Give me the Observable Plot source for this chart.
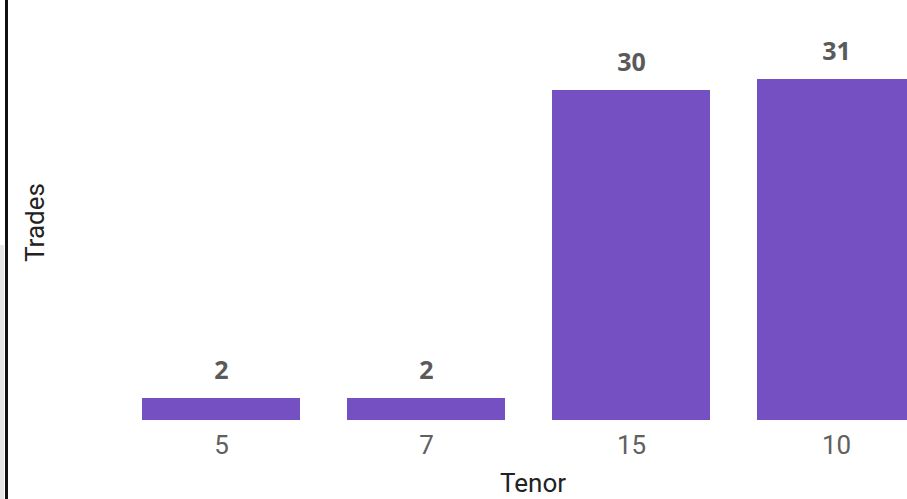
<!DOCTYPE html>
<html>
<head>
<meta charset="utf-8">
<script src="https://cdn.jsdelivr.net/npm/d3@7"></script>
<script src="https://cdn.jsdelivr.net/npm/@observablehq/plot@0.6"></script>
<style>
  html, body { margin: 0; padding: 0; background: #fff; overflow: hidden; }
  #wrap { position: relative; width: 907px; height: 499px; }
  #strip { position: absolute; left: 0; top: 245px; width: 4px; height: 254px; background: #e6e6e6; }
  #vline { position: absolute; left: 5px; top: 0; width: 3px; height: 499px; background: #111; }
  #chart { position: absolute; left: 0; top: 0; }
  #chart svg { overflow: hidden; }
</style>
</head>
<body>
<div id="wrap">
  <div id="strip"></div>
  <div id="vline"></div>
  <div id="chart"></div>
</div>
<script>
const tenors = ["5", "7", "15", "10"];
const trades = [2, 2, 30, 31];
const xTitle = "Tenor";
const yTitle = "Trades";

const data = tenors.map((t, i) => ({tenor: t, trades: trades[i]}));

const chart = Plot.plot({
  width: 907,
  height: 499,
  marginTop: 0,
  marginBottom: 79,
  marginLeft: 0,
  marginRight: 0,
  style: {background: "transparent", fontFamily: "Roboto, sans-serif"},
  x: {domain: tenors, range: [118.5, 938.5], paddingInner: 0.2293, paddingOuter: 0.1146, axis: null},
  y: {domain: [0, d3.max(trades)], range: [420, 79], axis: null},
  marks: [
    Plot.barY(data, {x: "tenor", y: "trades", fill: "#7550C2"}),
    Plot.text(data, {x: "tenor", y: "trades", text: d => String(d.trades), dy: -28,
      fill: "#5a5a5a", fontSize: 25, fontWeight: "bold", fontFamily: "'Open Sans', sans-serif"}),
    Plot.axisX({tickSize: 0, tickPadding: 15, fontSize: 26, color: "#606060", label: null,
      fontFamily: "Roboto, sans-serif"}),
    Plot.text([xTitle], {frameAnchor: "bottom", dx: 79, dy: 71, fontSize: 26,
      fill: "#222", fontFamily: "Roboto, sans-serif", style: "letter-spacing:1.5px"}),
    Plot.text([yTitle], {frameAnchor: "left", textAnchor: "middle", dx: 35, dy: 12, rotate: -90, fontSize: 26,
      fill: "#222", fontFamily: "Roboto, sans-serif", style: "letter-spacing:1.5px"})
  ]
});
document.getElementById("chart").appendChild(chart);
</script>
</body>
</html>
